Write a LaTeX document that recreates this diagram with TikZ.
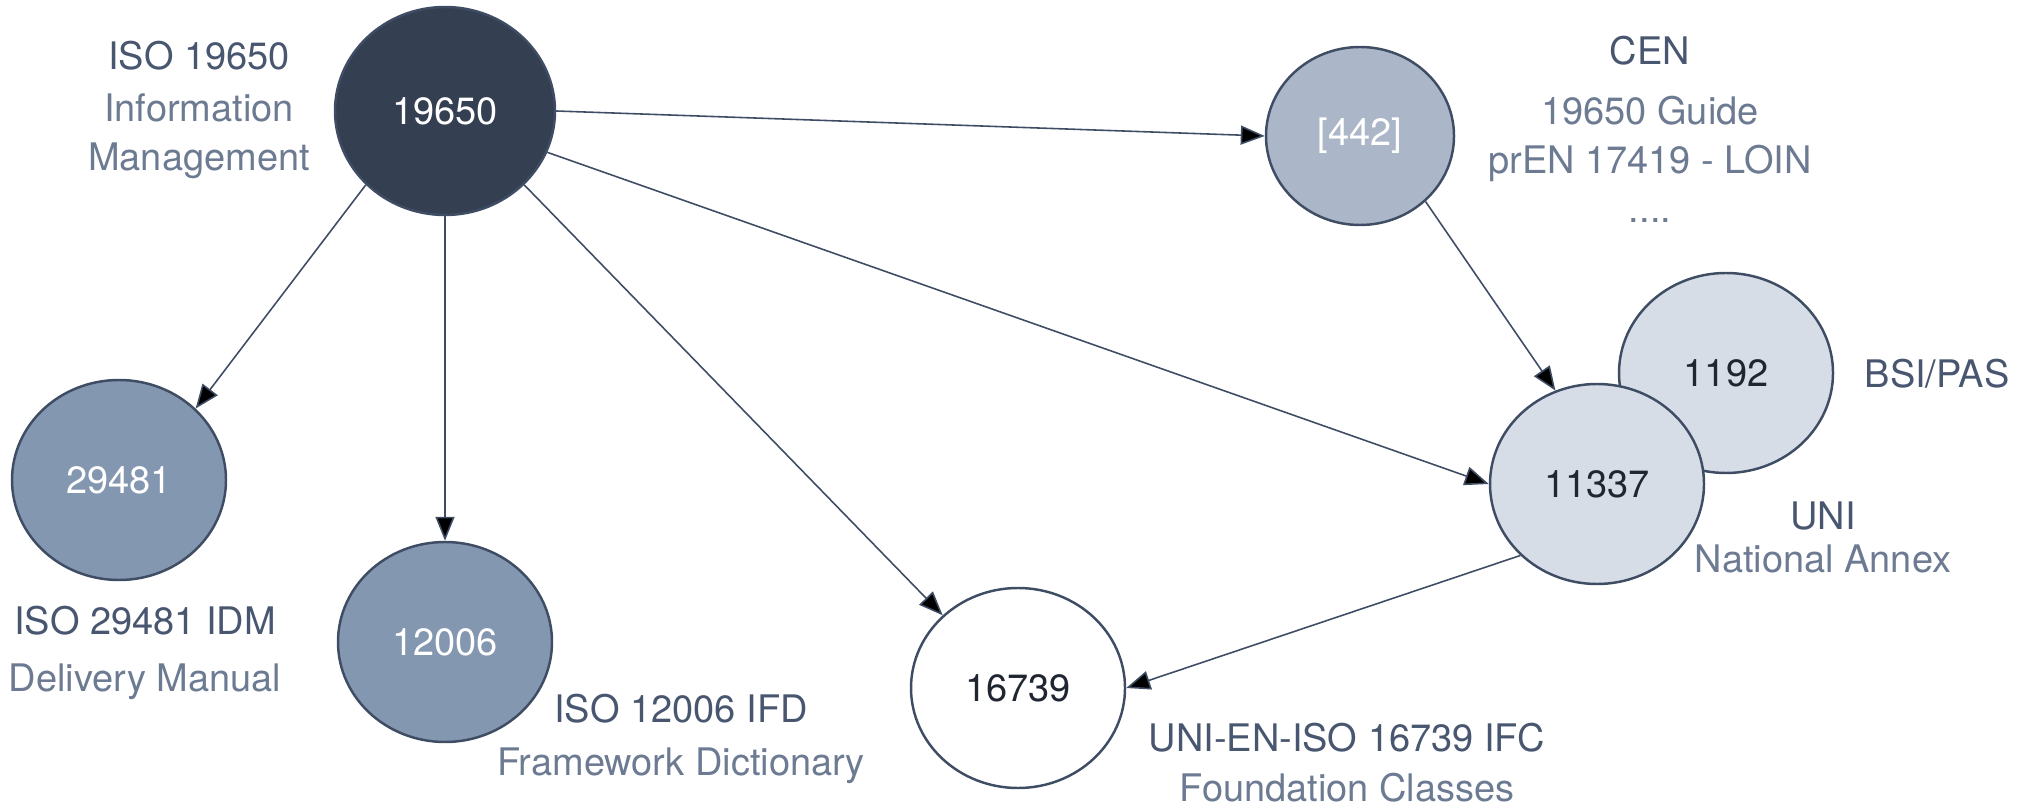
\documentclass[tikz,border=0pt]{standalone}
\usepackage{fontspec}
\setmainfont{TeX Gyre Heros}
\usetikzlibrary{positioning, shapes.geometric, arrows.meta}
\definecolor{navy}{HTML}{343F52}
\definecolor{steel}{HTML}{8497B0}
\definecolor{haze}{HTML}{ABB6C8}
\definecolor{mist}{HTML}{D6DDE7}
\definecolor{edgeline}{HTML}{3F4D64}
\definecolor{headtext}{HTML}{485670}
\definecolor{litetext}{HTML}{6C7A92}
\definecolor{numtext}{HTML}{1F2630}
\newcommand{\lite}[1]{{\color{litetext}#1}}
\tikzset{main node/.style={ellipse, draw=edgeline, line width=0.7pt, inner sep=0pt,
    minimum width=2.14cm, minimum height=2cm, text=numtext,
    font=\fontsize{10.8}{14}\selectfont},
  label text/.style={align=center, inner sep=0pt, text=headtext,
    font=\fontsize{10.8}{14}\selectfont},}

\begin{document}
\begin{tikzpicture}[on grid, >={Triangle[length=0.24cm, width=0.19cm]}]
        \useasboundingbox (0,0) rectangle (20.33,-8.09);
        % Standards
        \node[main node, fill=navy, text=white, minimum width=2.2cm, minimum height=2.08cm] (19650) at (4.45,-1.11) {19650};
        \node[main node, fill=haze, text=white, minimum width=1.88cm, minimum height=1.78cm] [below right = 0.25cm and 9.15cm of 19650] (442) {[442]};
        \node[main node, fill=mist] [below right = 2.37cm and 3.66cm of 442] (1192) {1192};
        \node[main node, fill=mist] [below right = 3.48cm and 2.37cm of 442] (11337) {11337};
        \node[main node, fill=steel, text=white] [below left = 3.69cm and 3.26cm of 19650] (29481) {29481};
        \node[main node, fill=steel, text=white] [below = 5.31cm of 19650] (12006) {12006};
        \node[main node, fill=white] [below right = 5.77cm and 5.73cm of 19650] (16739) {16739};
        % Labels (base = last line)
        \node[label text] [below left = 0.60cm and 2.46cm of 19650, anchor=base] (iso19650) {ISO 19650\\[1pt]\lite{Information}\\\lite{Management}};
        \node[label text] [below right = 0.87cm and 2.90cm of 442, anchor=base] (cen) {CEN\\[3pt]\lite{19650 Guide}\\\lite{prEN 17419 - LOIN}\\\lite{....}};
        \node[label text] [below right = 0.15cm and 2.11cm of 1192, anchor=base] (bsi) {BSI/PAS};
        \node[label text] [below right = 0.89cm and 2.26cm of 11337, anchor=base] (uni) {UNI\\[-1.5pt]\lite{National Annex}};
        \node[label text] [below right = 2.11cm and 0.26cm of 29481, anchor=base] (iso29481) {ISO 29481 IDM\\[2pt]\lite{Delivery Manual}};
        \node[label text] [below right = 1.33cm and 2.36cm of 12006, anchor=base] (iso12006) {ISO 12006 IFD\\[1pt]\lite{Framework Dictionary}};
        \node[label text] [below right = 1.13cm and 3.29cm of 16739, anchor=base] (iso16739) {UNI-EN-ISO 16739 IFC\\\lite{Foundation Classes}};
        % Links
        \path[draw=edgeline, line width=0.45pt, every edge/.append style={->}]
        (19650.east) edge (442.west)
        (19650.-22) edge (11337.west)
        (19650.223) edge (29481.43)
        (19650.south) edge (12006.north)
        (19650.-43) edge (16739.136)
        (442.-45) edge (11337.114)
        (11337.223) edge (16739.east);
    \end{tikzpicture}
\end{document}
